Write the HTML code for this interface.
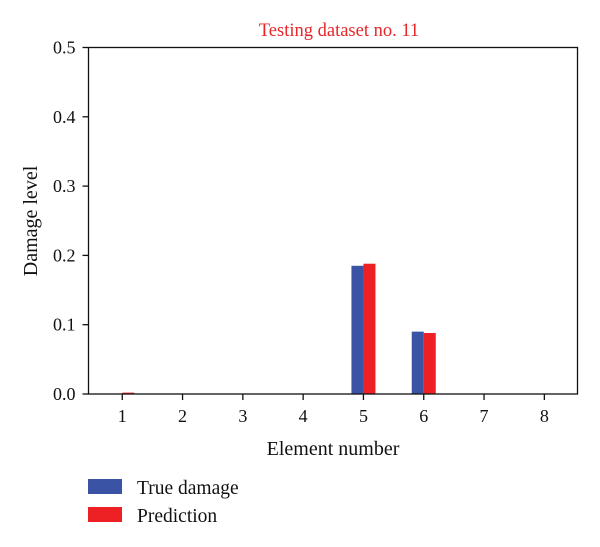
<!DOCTYPE html>
<html><head><meta charset="utf-8"><style>
body{margin:0;background:#fff;}
svg text{font-family:"Liberation Serif",serif;}
</style></head><body>
<svg id="chart" width="600" height="542" xmlns="http://www.w3.org/2000/svg">
<text x="339" y="36" text-anchor="middle" font-size="18.5" fill="#e8262a">Testing dataset no. 11</text>
<g id="bars"></g>
<g id="axes"></g>
<text x="333" y="455" text-anchor="middle" font-size="20" fill="#111">Element number</text>
<text transform="translate(37,221) rotate(-90)" text-anchor="middle" font-size="20" fill="#111">Damage level</text>
<g>
<g><rect x="88" y="479" width="34" height="15" fill="#3a53a4"/><text x="137" y="494" font-size="19.5" fill="#111">True damage</text></g>
<g><rect x="88" y="507" width="34" height="15" fill="#ed2024"/><text x="137" y="522" font-size="19.5" fill="#111">Prediction</text></g>
</g>
</svg>
<script>
const categories=[1,2,3,4,5,6,7,8];
const trueDamage=[0,0,0,0,0.185,0.090,0,0];
const prediction=[0.002,0,0,0,0.188,0.088,0,0];
const yTicks=[0,0.1,0.2,0.3,0.4,0.5];
const yTickLabels=["0.0","0.1","0.2","0.3","0.4","0.5"];
const L=88.5,R=577.5,T=47.5,B=394;
const xs=v=>L+(v-0.44)/(8.55-0.44)*(R-L);
const ys=v=>B-v/0.5*(B-T);
const NS="http://www.w3.org/2000/svg";
const bars=document.getElementById('bars'),axes=document.getElementById('axes');
function mk(tag,attrs,parent){const e=document.createElementNS(NS,tag);for(const k in attrs)e.setAttribute(k,attrs[k]);parent.appendChild(e);return e;}
const bw=12;
categories.forEach((c,i)=>{
  const cx=xs(c);
  if(trueDamage[i]>0){const r=mk('rect',{x:cx-bw,y:ys(trueDamage[i]),width:bw,height:B-ys(trueDamage[i]),fill:'#3a53a4'},bars);
  
  }
  if(prediction[i]>0){const r=mk('rect',{x:cx,y:ys(prediction[i]),width:bw,height:B-ys(prediction[i]),fill:'#ed2024'},bars);
  
  }
  mk('line',{x1:cx,x2:cx,y1:B,y2:B+6,stroke:'#111','stroke-width':1.3},axes);
  const t=mk('text',{x:cx,y:B+28,'text-anchor':'middle','font-size':18,fill:'#111'},axes);t.textContent=c;
  
  
});
yTicks.forEach((v,i)=>{
  const y=ys(v);
  mk('line',{x1:L-6,x2:L,y1:y,y2:y,stroke:'#111','stroke-width':1.3},axes);
  const t=mk('text',{x:L-13,y:y+6,'text-anchor':'end','font-size':18,fill:'#111'},axes);t.textContent=yTickLabels[i];
  
  
});
const f=mk('rect',{x:L,y:T,width:R-L,height:B-T,fill:'none',stroke:'#111','stroke-width':1.3},axes);


</script>
</body></html>
